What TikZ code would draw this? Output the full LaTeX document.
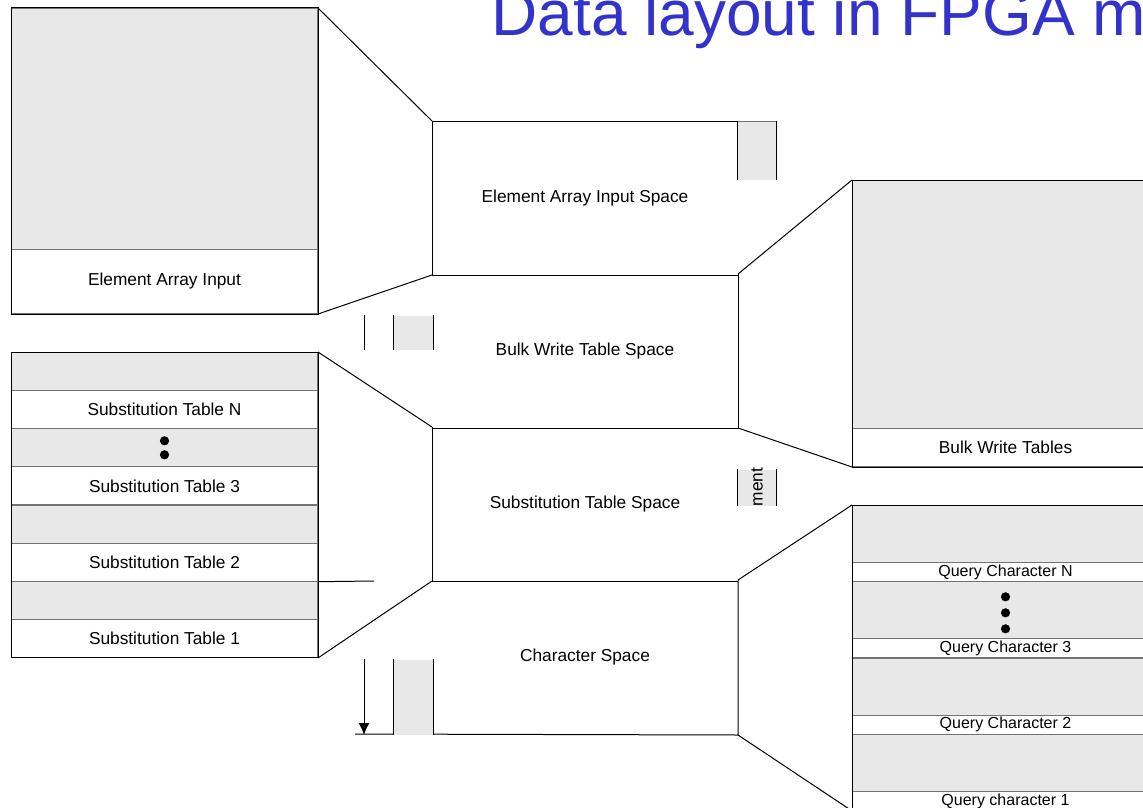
\documentclass[tikz,border=0pt]{standalone}
\usepackage{fontspec}
\setmainfont{Liberation Sans}
\usetikzlibrary{arrows.meta,calc}
\definecolor{cellgray}{RGB}{232,232,232}
\definecolor{titleblue}{RGB}{51,51,204}

\begin{document}
\begin{tikzpicture}[x=1pt,y=-1pt,line width=1pt,
	cell/.style={rectangle,inner sep=0pt,anchor=north west,minimum width=306pt,draw=black!55},
	shaded/.style={cell,fill=cellgray},
	plain/.style={cell,fill=white,font=\fontsize{17.3}{20}\selectfont},
	qplain/.style={plain,font=\fontsize{16}{18}\selectfont},
	space/.style={rectangle,inner sep=0pt,anchor=north west,minimum width=305pt,
		minimum height=153pt,font=\fontsize{17.3}{20}\selectfont},
	stub/.style={rectangle,inner sep=0pt,anchor=north west,minimum width=38pt,fill=cellgray},
	frame/.style={draw=black}]
	\fill[white] (0,0) rectangle (1143,808);
	\useasboundingbox (0,0) rectangle (1143,808);

	% title, runs off the right edge
	\node[anchor=base west,inner sep=0pt,text=titleblue,font=\fontsize{64}{64}\selectfont]
		(title) at (491,36) {Data layout in FPGA m};

	% element array input (top left)
	\node[shaded,minimum height=241pt] (eaiTop) at (11,8) {};
	\node[plain,minimum height=64pt] (eai) at (11,249) {Element Array Input};
	\draw[frame] (eaiTop.north west) rectangle (eai.south east);

	% substitution tables (bottom left)
	\foreach \k/\lab in {0/N,1/3,2/2,3/1}{
		\node[shaded,minimum height=38.1pt] (sg\k) at (11,{352+76.25*\k}) {};
		\node[plain,minimum height=38.1pt] (st\k) at (11,{390.1+76.25*\k}) {Substitution Table \lab};
	}
	\draw[frame] (sg0.north west) rectangle (st3.south east);
	\fill ($(sg1.center)+(0,-7)$) circle (4.6pt);
	\fill ($(sg1.center)+(0,7)$) circle (4.6pt);

	% memory spaces (middle column)
	\node[space] (eais) at (432,121) {Element Array Input Space};
	\node[space] (bwts) at (432,274) {Bulk Write Table Space};
	\node[space] (sts) at (432,427) {Substitution Table Space};
	\node[space,minimum height=154pt] (cs) at (432,580) {Character Space};
	\draw (eais.south west) -- (eais.north west) -- (eais.north east);
	\draw (eais.south west) -- (eais.south east);
	\draw (bwts.north east) -- (bwts.south east) -- (bwts.south west);
	\draw (sts.north west) -- (sts.south west) -- (sts.south east);
	\coordinate (baseEnd) at (355,734);
	\draw (cs.north east) -- (cs.south east) -- (baseEnd);
	\coordinate (subTick) at (374,581);
	\draw (st2.south east) -- (subTick);

	% cut off side labels
	\node[stub,minimum height=58pt] (stubA) at (737,121) {};
	\draw[black!55] (stubA.north west) -- (stubA.north east);
	\draw (stubA.south west) -- (stubA.north west) (stubA.north east) -- (stubA.south east);
	\node[stub,minimum width=39pt,minimum height=34pt] (stubB) at (393,315) {};
	\draw (stubB.north west) -- (stubB.south west) (stubB.north east) -- (stubB.south east);
	\draw ($(stubB.north west)+(-29,0)$) -- ($(stubB.south west)+(-29,0)$);
	\node[stub,minimum height=36pt] (stubC) at (737,469) {};
	\draw (stubC.north west) -- (stubC.south west) (stubC.north east) -- (stubC.south east);
	\node[rotate=90,inner sep=0pt,font=\fontsize{17.3}{20}\selectfont] (stubCtext) at (757,487) {ment};
	\node[stub,minimum width=39pt,minimum height=75pt] (stubD) at (393,659) {};
	\draw (stubD.north west) -- (stubD.south west) (stubD.north east) -- (stubD.south east);
	\draw[-{Latex[length=12pt,width=11pt]}] ($(stubD.north west)+(-29,0)$) -- ($(stubD.south west)+(-29,0)$);

	% bulk write tables (top right)
	\node[shaded,minimum height=248pt] (bwtTop) at (852,180) {};
	\node[plain,minimum height=38pt] (bwt) at (852,428) {Bulk Write Tables};
	\draw[frame] (bwtTop.north west) rectangle (bwt.south east);

	% query characters (bottom right)
	\foreach \k/\lab in {0/Query Character N,1/Query Character 3,2/Query Character 2,3/Query character 1}{
		\node[shaded,minimum height=57pt] (qg\k) at (852,{505+76.3*\k}) {};
		\node[qplain,minimum height=19pt] (qt\k) at (852,{562+76.3*\k}) {\lab};
	}
	\draw[frame] (qg0.north west) -- (qg0.north east);
	\draw[frame] (qg0.north west) -- (qt3.south west);
	\foreach \d in {-13.5,2.5,18.5}
		\fill ($(qg1.center)+(0,\d)$) circle (4.6pt);

	% zoom lines between the pieces
	\draw (eaiTop.north east) -- (eais.north west);
	\draw (eai.south east) -- (eais.south west);
	\draw (sg0.north east) -- (sts.north west);
	\draw (st3.south east) -- (sts.south west);
	\draw (bwts.north east) -- (bwtTop.north west);
	\draw (bwts.south east) -- (bwt.south west);
	\draw (cs.north east) -- (qg0.north west);
	\draw (cs.south east) -- (qt3.south west);
\end{tikzpicture}
\end{document}
